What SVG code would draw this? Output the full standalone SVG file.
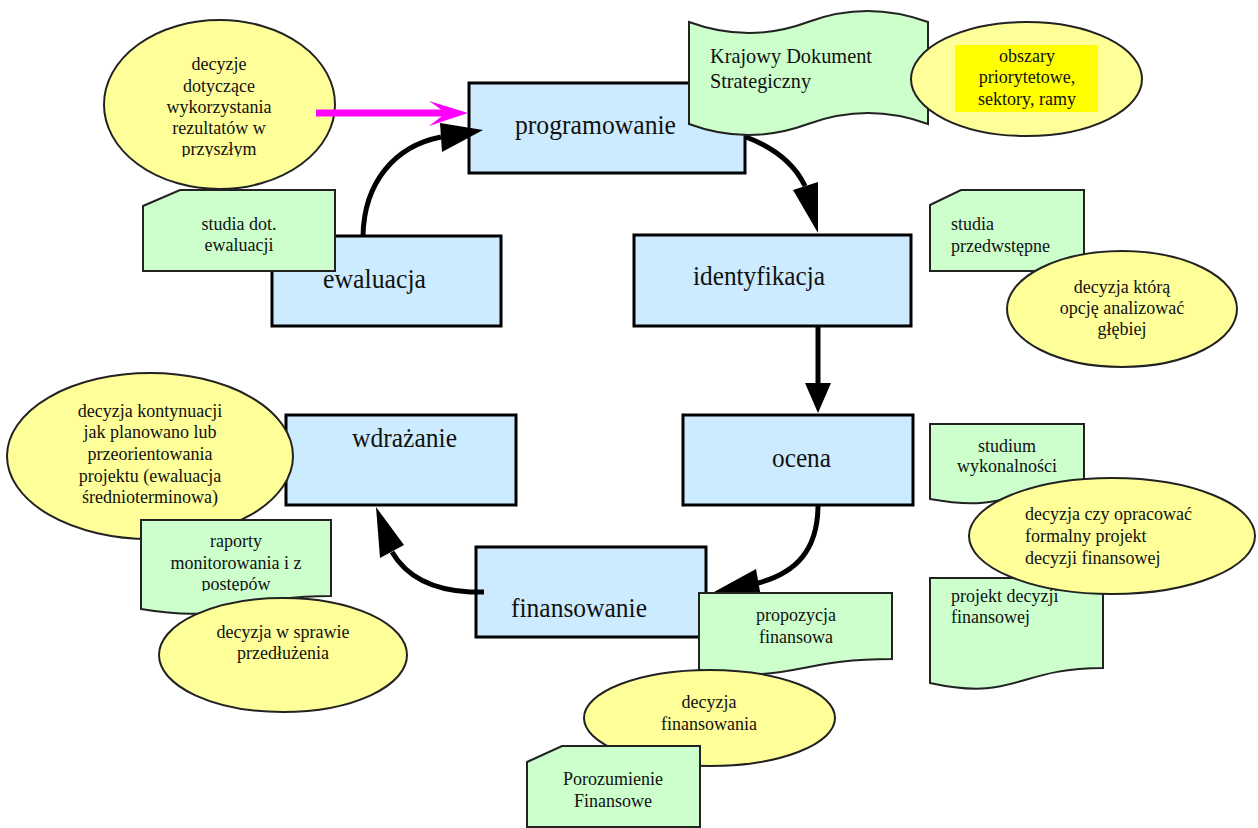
<svg xmlns="http://www.w3.org/2000/svg" width="1258" height="828" viewBox="0 0 1258 828">
<style>
.box{fill:#CCEBFF;stroke:#000;stroke-width:3}
.doc{fill:#CCFFCC;stroke:#222;stroke-width:2}
.ell{fill:#FFFF99;stroke:#222;stroke-width:2}
.t{font-family:"Liberation Serif","Times New Roman",serif;font-size:18px;fill:#111}
.c{text-anchor:middle}
.b{font-family:"Liberation Serif","Times New Roman",serif;font-size:28px;fill:#111}
.k{font-family:"Liberation Serif","Times New Roman",serif;font-size:22px;fill:#111}
.ln{fill:none;stroke:#000;stroke-width:5}
.hd{fill:#000}
</style>
<defs>
<clipPath id="clipA"><rect x="100" y="20" width="240" height="137"/></clipPath>
<clipPath id="clipB"><rect x="141" y="520" width="190" height="71"/></clipPath>
</defs>
<rect width="1258" height="828" fill="#fff"/>

<g id="programowanie"><rect class="box" x="469" y="83" width="276" height="90"/><text class="b" x="515" y="134" textLength="161" lengthAdjust="spacingAndGlyphs">programowanie</text></g>
<g id="identyfikacja"><rect class="box" x="634" y="235" width="277" height="91"/><text class="b" x="693" y="285" textLength="132" lengthAdjust="spacingAndGlyphs">identyfikacja</text></g>
<g id="ocena"><rect class="box" x="683" y="415" width="230" height="90"/><text class="b" x="772" y="467" textLength="59" lengthAdjust="spacingAndGlyphs">ocena</text></g>
<g id="finansowanie"><rect class="box" x="476" y="547" width="230" height="90"/><text class="b" x="511" y="617" textLength="136" lengthAdjust="spacingAndGlyphs">finansowanie</text></g>
<g id="wdrazanie"><rect class="box" x="286" y="415" width="230" height="90"/><text class="b" x="352" y="447" textLength="105" lengthAdjust="spacingAndGlyphs">wdrażanie</text></g>
<g id="ewaluacja"><rect class="box" x="272" y="236" width="229" height="90"/><text class="b" x="323" y="288" textLength="103" lengthAdjust="spacingAndGlyphs">ewaluacja</text></g>

<g id="decyzje-rezultaty"><ellipse class="ell" cx="219.5" cy="104.5" rx="115.5" ry="84.5"/>
<g clip-path="url(#clipA)"><text class="t c" x="219"><tspan x="219" y="70">decyzje</tspan><tspan x="219" y="92">dotyczące</tspan><tspan x="219" y="113">wykorzystania</tspan><tspan x="219" y="134">rezultatów w</tspan><tspan x="219" y="155">przyszłym</tspan></text></g></g>

<g id="connectors">
<path class="ln" d="M363,236 C364,182 395,146 441,137"/>
<polygon class="hd" points="483,130 440,123 442,152"/>
<path class="ln" d="M746,137 C775,148 795,165 805,186"/>
<polygon class="hd" points="818,233 793,190 818,182"/>
<path class="ln" d="M818,326 V385"/>
<polygon class="hd" points="818,413 805,383 831,383"/>
<path class="ln" d="M818,505 C818,550 796,573 758,583"/>
<polygon class="hd" points="714,592 756,569 761,597"/>
<path class="ln" d="M484,592 L470,592 C432,590 406,576 392,552"/>
<polygon class="hd" points="376,507 380,558 404,545"/>
<path d="M316,113 H452" fill="none" stroke="#FF00FF" stroke-width="7"/>
<polygon points="468,113 429,101 446,113 429,126" fill="#FF00FF"/>
</g>

<g id="studia-ewaluacji"><path class="doc" d="M180,190 H335 V271 H143 V206 Z"/><text class="t c"><tspan x="239" y="230">studia dot.</tspan><tspan x="239" y="251">ewaluacji</tspan></text></g>

<g id="krajowy-dokument"><path class="doc" d="M689,22 Q749,44 808,22 T928,22 V124 Q868,102 808,124 T689,124 Z"/>
<text class="k"><tspan x="710" y="63" textLength="162" lengthAdjust="spacingAndGlyphs">Krajowy Dokument</tspan><tspan x="710" y="88" textLength="101" lengthAdjust="spacingAndGlyphs">Strategiczny</tspan></text></g>

<g id="obszary"><ellipse class="ell" cx="1026.5" cy="79" rx="115.5" ry="57"/><rect x="955" y="45" width="143" height="67" fill="#FFFF00"/>
<text class="t c"><tspan x="1027" y="62">obszary</tspan><tspan x="1027" y="83">priorytetowe,</tspan><tspan x="1027" y="105">sektory, ramy</tspan></text></g>

<g id="studia-przedwstepne"><path class="doc" d="M961,190 H1084 V271 H930 V205 Z"/><text class="t"><tspan x="951" y="230">studia</tspan><tspan x="951" y="252">przedwstępne</tspan></text></g>

<g id="decyzja-opcja"><ellipse class="ell" cx="1122" cy="309" rx="115" ry="58"/><text class="t c"><tspan x="1122" y="293">decyzja którą</tspan><tspan x="1122" y="314">opcję analizować</tspan><tspan x="1122" y="335">głębiej</tspan></text></g>

<g id="studium-wykonalnosci"><path class="doc" d="M930,424 H1084 V488 C1007,488 1007,513 930,499 Z"/><text class="t c"><tspan x="1007" y="452">studium</tspan><tspan x="1007" y="472">wykonalności</tspan></text></g>

<g id="projekt-decyzji"><path class="doc" d="M930,578 H1103 V668 C1016,668 1016,702 930,683 Z"/><text class="t"><tspan x="951" y="602">projekt decyzji</tspan><tspan x="951" y="623">finansowej</tspan></text></g>

<g id="decyzja-opracowac"><ellipse class="ell" cx="1112" cy="536" rx="143" ry="58"/><text class="t"><tspan x="1025" y="520">decyzja czy opracować</tspan><tspan x="1025" y="542">formalny projekt</tspan><tspan x="1025" y="564">decyzji finansowej</tspan></text></g>

<g id="decyzja-kontynuacji"><ellipse class="ell" cx="150" cy="456" rx="143" ry="83"/><text class="t c"><tspan x="150" y="417">decyzja kontynuacji</tspan><tspan x="150" y="438">jak planowano lub</tspan><tspan x="150" y="460">przeorientowania</tspan><tspan x="150" y="482">projektu (ewaluacja</tspan><tspan x="150" y="503">średnioterminowa)</tspan></text></g>

<g id="raporty"><path class="doc" d="M141,520 H331 V596 C236,596 236,625 141,609 Z"/>
<g clip-path="url(#clipB)"><text class="t c"><tspan x="236" y="547">raporty</tspan><tspan x="236" y="569">monitorowania i z</tspan><tspan x="236" y="590">postępów</tspan></text></g></g>

<g id="decyzja-przedluzenia"><ellipse class="ell" cx="283" cy="655" rx="124" ry="57"/><text class="t c"><tspan x="283" y="638">decyzja w sprawie</tspan><tspan x="283" y="659">przedłużenia</tspan></text></g>

<g id="propozycja"><path class="doc" d="M699,593 H892 V659 C795,659 795,684 699,670 Z"/><text class="t c"><tspan x="796" y="621">propozycja</tspan><tspan x="796" y="643">finansowa</tspan></text></g>

<g id="decyzja-finansowania"><ellipse class="ell" cx="709.5" cy="718" rx="125.5" ry="48"/><text class="t c"><tspan x="709" y="708">decyzja</tspan><tspan x="709" y="730">finansowania</tspan></text></g>

<g id="porozumienie"><path class="doc" d="M562,746 H700 V827 H527 V762 Z"/><text class="t c"><tspan x="613" y="785">Porozumienie</tspan><tspan x="613" y="807">Finansowe</tspan></text></g>
</svg>
